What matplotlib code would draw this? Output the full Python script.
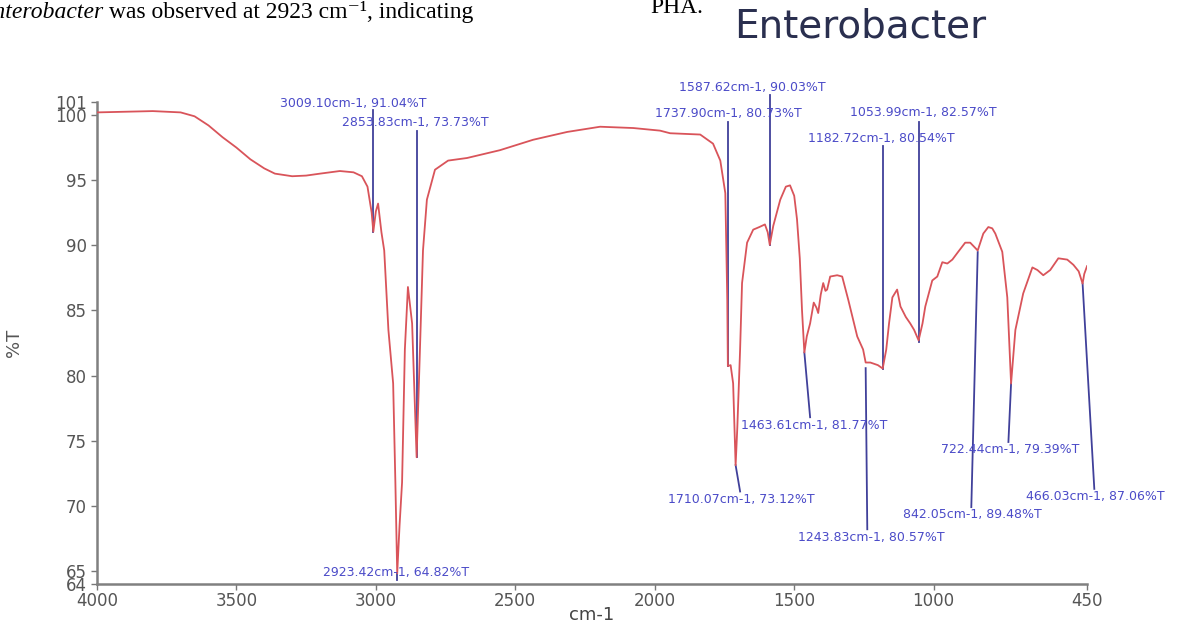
"""
    FTIR spectrum of Enterobacter (%T vs cm-1) with labelled peaks
"""

import matplotlib
matplotlib.use('Agg')
import matplotlib.pyplot as plt

# spectrum (wavenumber, %T)
wavenumber = [4000, 3900, 3800, 3700, 3650, 3600, 3550, 3500, 3450, 3400,
              3362, 3300, 3250, 3200, 3129, 3080, 3050, 3030, 3015, 3009.10,
              3000, 2992, 2980, 2970, 2955, 2938, 2930, 2923.42, 2915, 2906,
              2896, 2885, 2870, 2853.83, 2842, 2831, 2817, 2788, 2741, 2673,
              2555, 2436, 2314, 2196, 2077, 1981, 1945, 1837, 1791, 1765,
              1747, 1740, 1737.90, 1728, 1719, 1712, 1710.07, 1704, 1694, 1687,
              1669, 1647, 1625, 1605, 1595, 1587.62, 1575, 1550, 1530, 1515,
              1500, 1490, 1480, 1472, 1463.61, 1455, 1443, 1430, 1420, 1414,
              1405, 1396, 1388, 1382, 1371, 1346, 1328, 1306, 1274, 1253,
              1243.83, 1227, 1200, 1182.72, 1170, 1160, 1148, 1131, 1119, 1100,
              1084, 1070, 1053.99, 1040, 1030, 1005, 987, 969, 951, 933,
              912, 887, 869, 842.05, 822, 804, 790, 779, 754, 736,
              722.44, 707, 679, 646, 628, 607, 582, 553, 521, 499,
              480, 466.03, 460, 450]
transmittance = [100.2, 100.25, 100.3, 100.2, 99.9, 99.2, 98.3, 97.5, 96.6, 95.9,
                 95.5, 95.3, 95.35, 95.5, 95.7, 95.6, 95.3, 94.5, 92.5, 91.04,
                 92.6, 93.2, 91.0, 89.6, 83.5, 79.4, 71.8, 64.82, 68.5, 71.8,
                 82.0, 86.8, 84.0, 73.73, 82.0, 89.6, 93.5, 95.8, 96.5, 96.7,
                 97.3, 98.1, 98.7, 99.1, 99.0, 98.8, 98.6, 98.5, 97.8, 96.5,
                 94.0, 85.8, 80.73, 80.8, 79.4, 74.5, 73.12, 76.0, 82.0, 87.1,
                 90.2, 91.2, 91.4, 91.6, 91.0, 90.03, 91.5, 93.5, 94.5, 94.6,
                 93.8, 92.0, 89.0, 85.0, 81.77, 83.0, 84.0, 85.6, 85.2, 84.8,
                 86.2, 87.1, 86.5, 86.6, 87.6, 87.7, 87.6, 85.8, 83.0, 82.0,
                 81.0, 81.0, 80.8, 80.54, 82.0, 84.0, 86.0, 86.6, 85.3, 84.5,
                 84.0, 83.5, 82.7, 84.0, 85.3, 87.3, 87.6, 88.7, 88.6, 88.9,
                 89.5, 90.2, 90.2, 89.6, 90.9, 91.4, 91.3, 90.9, 89.5, 86.0,
                 79.39, 83.5, 86.3, 88.3, 88.1, 87.7, 88.1, 89.0, 88.9, 88.5,
                 88.0, 87.06, 87.8, 88.4]

# labelled peaks
peak_wn = [3009.10, 2853.83, 2923.42, 1737.90, 1710.07, 1587.62, 1463.61,
           1243.83, 1182.72, 1053.99, 842.05, 722.44, 466.03]
peak_t = [91.04, 73.73, 64.82, 80.73, 73.12, 90.03, 81.77,
          80.57, 80.54, 82.57, 89.48, 79.39, 87.06]

# where each label sits, and where its leader line stops (data coords)
label_xy = [(3082, 100.9), (2859, 99.4), (2928, 64.85), (1737, 100.15),
            (1690, 70.45), (1651, 102.1), (1428, 76.2), (1224, 67.6),
            (1188, 98.2), (1037, 100.2), (862, 69.3), (725, 74.3), (420, 70.7)]
line_end = [(3009.10, 100.4), (2853.83, 98.8), (2923.42, 64.3), (1737.90, 99.5),
            (1694, 71.1), (1587.62, 101.5), (1443, 76.8), (1238, 68.2),
            (1182.72, 97.6), (1053.99, 99.5), (865, 69.9), (732, 74.9), (424, 71.3)]

xticks = [4000, 3500, 3000, 2500, 2000, 1500, 1000, 450]
yticks = [64, 65, 70, 75, 80, 85, 90, 95, 100, 101]

fig = plt.figure(figsize=(11.78, 6.26), dpi=100)
ax = fig.add_axes([0.0823, 0.0671, 0.8405, 0.770])

# leader lines first, spectrum over them
for (px, py), (ex, ey) in zip(zip(peak_wn, peak_t), line_end):
    ax.plot([px, ex], [py, ey], color='#40409a', lw=1.3, clip_on=False, zorder=2)

ax.plot(wavenumber, transmittance, color='#d9545a', lw=1.3, zorder=3)

for (px, py), (lx, ly) in zip(zip(peak_wn, peak_t), label_xy):
    ax.text(lx, ly, f'{px:.2f}cm-1, {py:.2f}%T', color='#4b4bc8', fontsize=9,
            ha='center', va='center', clip_on=False, zorder=4)

ax.set_xlim(4000, 450)
ax.set_ylim(64, 101)
ax.set_xticks(xticks)
ax.set_yticks(yticks)
ax.tick_params(colors='#777777', labelcolor='#555555', labelsize=12, length=4, width=1)
ax.tick_params(axis='x', pad=2)

for s in ['top', 'right']:
    ax.spines[s].set_visible(False)
for s in ['left', 'bottom']:
    ax.spines[s].set_color('#808080')
    ax.spines[s].set_linewidth(1.8)

ax.set_xlabel('cm-1', fontsize=13, color='#444444', labelpad=-3)
ax.set_ylabel('%T', fontsize=13, color='#555555')
ax.yaxis.set_label_coords(-0.075, 0.5)

# title and the bits of paper text caught in the crop
fig.text(0.730, 0.958, 'Enterobacter', fontsize=28, color='#2a2f4f',
         ha='center', va='center')
serif = ['Liberation Serif', 'DejaVu Serif']
fig.text(0.0875, 0.971, 'Enterobacter', fontsize=17, style='italic',
         family=serif, ha='right', va='baseline')
fig.text(0.0875, 0.971, ' was observed at 2923 cm\u207b\u00b9, indicating',
         fontsize=17, family=serif, ha='left', va='baseline')
fig.text(0.552, 0.979, 'PHA.', fontsize=17, family=serif, ha='left', va='baseline')

fig.savefig('out.png', dpi=100)
